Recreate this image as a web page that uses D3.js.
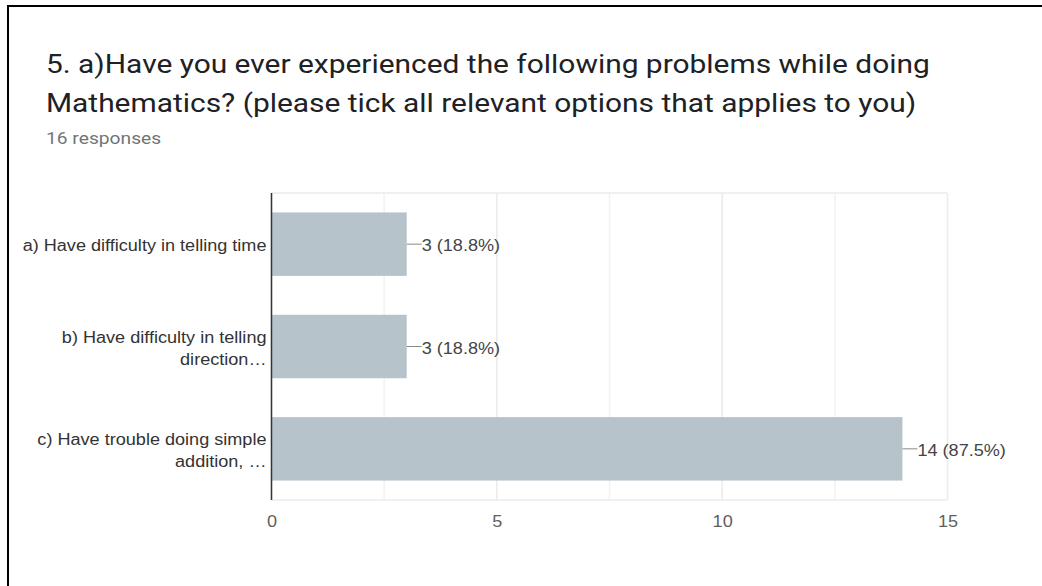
<!DOCTYPE html>
<html>
<head>
<meta charset="utf-8">
<script src="https://cdn.jsdelivr.net/npm/d3@7"></script>
<style>
  body { margin: 0; background: #fff; }
  svg { display: block; }
</style>
</head>
<body>
<div id="chart"></div>
<script>
var w = 1042;
var h = 586;
// the screenshot is a bit wider than it is tall, so text gets stretched a little
var stretch = 1.13;
var titleStretch = 1.15;

var categories = ['a', 'b', 'c'];
var labelLines = [
  ['a) Have difficulty in telling time'],
  ['b) Have difficulty in telling', 'direction\u2026'],
  ['c) Have trouble doing simple', 'addition, \u2026']
];
var counts = [3, 3, 14];
var totalResponses = 16;
var tickLabels = [0, 5, 10, 15];
var gridValues = [0, 2.5, 5, 7.5, 10, 12.5, 15];

var svg = d3.select('#chart')
  .append('svg')
  .attr('width', w)
  .attr('height', h);

// frame of the screenshot (top + left only)
svg.append('line')
  .attr('x1', 7).attr('x2', w).attr('y1', 6).attr('y2', 6)
  .attr('stroke', '#000').attr('stroke-width', 2);
svg.append('line')
  .attr('x1', 8).attr('x2', 8).attr('y1', 5).attr('y2', h)
  .attr('stroke', '#000').attr('stroke-width', 2);

// title
svg.append('text')
  .attr('class', 'title')
  .attr('x', 46).attr('y', 73)
  .style('font-family', 'Roboto')
  .style('font-size', '26px')
  .style('fill', '#202124')
  .text('5. a)Have you ever experienced the following problems while doing');
svg.append('text')
  .attr('class', 'title')
  .attr('x', 46).attr('y', 112)
  .style('font-family', 'Roboto')
  .style('font-size', '26px')
  .style('fill', '#202124')
  .text('Mathematics? (please tick all relevant options that applies to you)');
svg.append('text')
  .attr('x', 46).attr('y', 144)
  .style('font-family', 'Roboto')
  .style('font-size', '17px')
  .style('fill', '#70757a')
  .text(totalResponses + ' responses');

var x = d3.scaleLinear()
  .domain([0, 15])
  .range([271.5, 947.5]);

var y = d3.scaleBand()
  .domain(categories)
  .range([193, 500])
  .paddingInner(0.38)
  .paddingOuter(0.19);

// grid
svg.selectAll('.grid')
  .data(gridValues)
  .enter()
  .append('line')
  .attr('class', 'grid')
  .attr('x1', d => x(d)).attr('x2', d => x(d))
  .attr('y1', 193).attr('y2', 500)
  .attr('stroke', d => d % 5 === 0 ? '#ebebeb' : '#f2f2f2')
  .attr('stroke-width', 1.5);
svg.append('line')
  .attr('x1', x(0)).attr('x2', x(15)).attr('y1', 193).attr('y2', 193)
  .attr('stroke', '#ebebeb').attr('stroke-width', 1.5);
svg.append('line')
  .attr('x1', x(0)).attr('x2', x(15)).attr('y1', 500).attr('y2', 500)
  .attr('stroke', '#ebebeb').attr('stroke-width', 1.5);

// bars
svg.selectAll('.bar')
  .data(counts)
  .enter()
  .append('rect')
  .attr('class', 'bar')
  .attr('x', x(0))
  .attr('y', (d, i) => y(categories[i]))
  .attr('width', d => x(d) - x(0))
  .attr('height', y.bandwidth())
  .attr('fill', '#b7c3cb');

// value labels with leader
svg.selectAll('.lead')
  .data(counts)
  .enter()
  .append('line')
  .attr('class', 'lead')
  .attr('x1', d => x(d)).attr('x2', d => x(d) + 15)
  .attr('y1', (d, i) => y(categories[i]) + y.bandwidth() / 2)
  .attr('y2', (d, i) => y(categories[i]) + y.bandwidth() / 2)
  .attr('stroke', '#8a8a8a').attr('stroke-width', 1);

svg.selectAll('.val')
  .data(counts)
  .enter()
  .append('text')
  .attr('class', 'val')
  .attr('x', d => x(d) + 15)
  .attr('y', (d, i) => y(categories[i]) + y.bandwidth() / 2)
  .attr('dy', '.45em')
  .style('font-family', 'Liberation Sans, Arial')
  .style('font-size', '16px')
  .style('fill', '#444')
  .text(d => d + ' (' + (d / totalResponses * 100).toFixed(1) + '%)');

// category labels
var cats = svg.selectAll('.cat')
  .data(labelLines)
  .enter()
  .append('text')
  .attr('class', 'cat')
  .attr('text-anchor', 'end')
  .style('font-family', 'Liberation Sans, Arial')
  .style('font-size', '16px')
  .style('fill', '#333');

cats.each(function(lines, i) {
  var cy = y(categories[i]) + y.bandwidth() / 2;
  var top = cy - (lines.length - 1) * 11;
  d3.select(this).selectAll('tspan')
    .data(lines)
    .enter()
    .append('tspan')
    .attr('x', 266.5)
    .attr('y', (d, j) => top + j * 22)
    .attr('dy', '.45em')
    .text(d => d);
});

// axis line
svg.append('line')
  .attr('x1', x(0)).attr('x2', x(0)).attr('y1', 193).attr('y2', 500)
  .attr('stroke', '#333').attr('stroke-width', 1.5);

// x tick labels
var xAxis = d3.axisBottom(x)
  .tickValues(tickLabels)
  .tickSize(0)
  .tickPadding(15.5)
  .tickFormat(d3.format('d'));

svg.append('g')
  .attr('transform', 'translate(0,500)')
  .call(xAxis)
  .call(g => g.select('.domain').remove())
  .selectAll('text')
  .style('font-family', 'Liberation Sans, Arial')
  .style('font-size', '16px')
  .style('fill', '#5f5f5f');

// widen every run of text by the stretch factor
svg.selectAll('text').each(function() {
  var k = this.classList.contains('title') ? titleStretch : stretch;
  var spans = d3.select(this).selectAll('tspan');
  var targets = spans.empty() ? [this] : spans.nodes();
  targets.forEach(function(el) {
    var len = el.getComputedTextLength();
    d3.select(el)
      .attr('textLength', len * k)
      .attr('lengthAdjust', 'spacingAndGlyphs');
  });
});
</script>
</body>
</html>
